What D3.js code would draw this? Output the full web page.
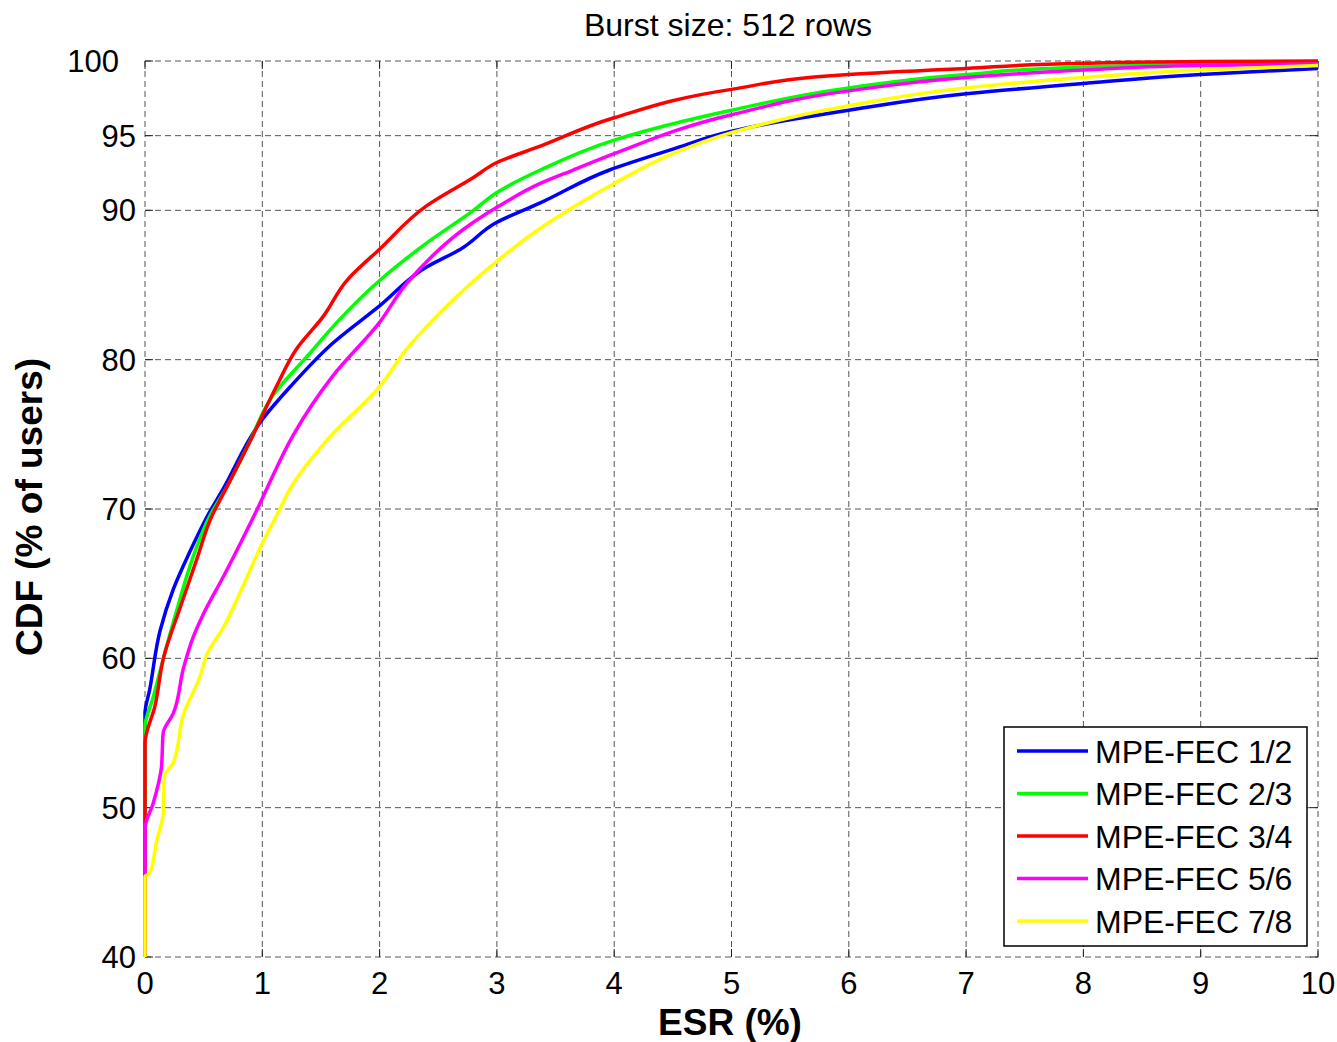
<!DOCTYPE html>
<html>
<head>
<meta charset="utf-8">
<script src="https://cdn.jsdelivr.net/npm/d3@7"></script>
<style>
  html, body { margin: 0; padding: 0; background: #fff; }
  svg { display: block; font-family: Arial, "Liberation Sans", sans-serif; }
</style>
</head>
<body>
<svg id="chart" width="1337" height="1042"></svg>
<script>
// Empirical CDF of erroneous-second ratio per MPE-FEC code rate
const seriesNames = ["MPE-FEC 1/2", "MPE-FEC 2/3", "MPE-FEC 3/4", "MPE-FEC 5/6", "MPE-FEC 7/8"];
const seriesColors = ["#0000ff", "#00ff00", "#ff0000", "#ff00ff", "#ffff00"];

const esr12 = [0, 0, 0.04, 0.13, 0.24, 0.38, 0.53, 0.67, 1.0, 1.24, 1.6, 2.0, 2.4, 2.69, 3.0, 3.37, 3.96, 4.5, 5.0, 6.0, 7.0, 8.0, 9.0, 10];
const cdf12 = [40, 56.3, 57.9, 61.9, 64.6, 67.1, 69.5, 71.4, 76.0, 78.2, 81.1, 83.6, 86.2, 87.4, 89.2, 90.5, 92.7, 94.1, 95.3, 96.7, 97.8, 98.5, 99.1, 99.5];

const esr23 = [0, 0, 0.07, 0.16, 0.27, 0.41, 0.55, 0.7, 0.88, 1.09, 1.38, 1.66, 2.0, 2.4, 2.8, 3.0, 3.37, 4.0, 5.0, 6.0, 7.0, 8.0, 9.0, 10];
const cdf23 = [40, 55.4, 57.4, 60.1, 63.2, 66.8, 69.5, 71.5, 74.3, 77.6, 80.2, 82.7, 85.3, 87.8, 90.0, 91.2, 92.7, 94.7, 96.7, 98.2, 99.1, 99.6, 99.8, 99.9];

const esr34 = [0, 0, 0.085, 0.16, 0.3, 0.44, 0.58, 0.64, 0.9, 1.12, 1.29, 1.52, 1.72, 2.0, 2.4, 2.8, 3.0, 3.37, 4.0, 5.0, 6.0, 7.0, 8.0, 9.0, 10];
const cdf34 = [40, 54.3, 56.8, 60.1, 63.4, 66.6, 69.7, 70.6, 74.6, 78.2, 80.7, 82.9, 85.3, 87.4, 90.3, 92.2, 93.2, 94.3, 96.2, 98.1, 99.1, 99.5, 99.85, 99.97, 100];

const esr56 = [0, 0, 0.07, 0.14, 0.155, 0.24, 0.33, 0.41, 0.5, 0.67, 0.87, 0.97, 1.07, 1.26, 1.6, 2.0, 2.23, 2.8, 3.0, 3.37, 3.65, 4.0, 5.0, 6.0, 7.0, 8.0, 9.0, 10];
const cdf56 = [40, 48.6, 50.3, 52.7, 55.0, 56.3, 59.4, 61.4, 63.0, 65.5, 68.6, 70.2, 71.9, 74.9, 78.9, 82.5, 85.1, 89.2, 90.2, 91.8, 92.7, 93.8, 96.4, 98.0, 98.9, 99.4, 99.7, 99.8];

const esr78 = [0, 0, 0.04, 0.1, 0.155, 0.165, 0.24, 0.33, 0.47, 0.53, 0.67, 0.81, 1.0, 1.15, 1.24, 1.55, 2.0, 2.23, 2.51, 2.94, 3.37, 4.0, 4.5, 5.0, 6.0, 7.0, 8.0, 9.0, 10];
const cdf78 = [40, 45.4, 45.6, 47.8, 49.6, 52.1, 53.0, 56.3, 58.8, 60.3, 62.1, 64.4, 67.7, 70.0, 71.4, 74.6, 78.2, 80.7, 83.1, 86.2, 88.8, 91.8, 93.8, 95.2, 97.0, 98.2, 98.9, 99.4, 99.7];

const xTicks = [0, 1, 2, 3, 4, 5, 6, 7, 8, 9, 10];
const yTicks = [40, 50, 60, 70, 80, 90, 95, 100];

const seriesX = [esr12, esr23, esr34, esr56, esr78];
const seriesY = [cdf12, cdf23, cdf34, cdf56, cdf78];

const svg = d3.select("#chart");
const plot = { left: 145, right: 1318, top: 61, bottom: 957 };

const x = d3.scaleLinear().domain([0, 10]).range([plot.left, plot.right]);
const y = d3.scaleLinear().domain([40, 100]).range([plot.bottom, plot.top]);

// dashed grid, also forming the frame of the axes
const grid = svg.append("g")
  .attr("stroke", "#555")
  .attr("stroke-width", 1)
  .attr("stroke-dasharray", "6,4")
  .attr("fill", "none");
grid.selectAll("line.v").data(xTicks).join("line")
  .attr("x1", d => x(d)).attr("x2", d => x(d))
  .attr("y1", plot.top).attr("y2", plot.bottom);
grid.selectAll("line.h").data(yTicks).join("line")
  .attr("y1", d => y(d)).attr("y2", d => y(d))
  .attr("x1", plot.left).attr("x2", plot.right);

// inward tick marks on all four sides
const tickLen = 8;
const ticks = svg.append("g").attr("stroke", "#222").attr("stroke-width", 1);
xTicks.forEach(t => {
  ticks.append("line").attr("x1", x(t)).attr("x2", x(t)).attr("y1", plot.bottom).attr("y2", plot.bottom - tickLen);
  ticks.append("line").attr("x1", x(t)).attr("x2", x(t)).attr("y1", plot.top).attr("y2", plot.top + tickLen);
});
yTicks.forEach(t => {
  ticks.append("line").attr("y1", y(t)).attr("y2", y(t)).attr("x1", plot.left).attr("x2", plot.left + tickLen);
  ticks.append("line").attr("y1", y(t)).attr("y2", y(t)).attr("x1", plot.right).attr("x2", plot.right - tickLen);
});

// tick labels
svg.append("g").selectAll("text").data(xTicks).join("text")
  .attr("x", d => x(d))
  .attr("y", 994)
  .attr("text-anchor", "middle")
  .attr("font-size", 31)
  .attr("fill", "#000")
  .text(d => d);

svg.append("g").selectAll("text").data(yTicks).join("text")
  .attr("x", d => d === 100 ? 119 : 136)
  .attr("y", d => y(d) + 11)
  .attr("text-anchor", "end")
  .attr("font-size", 31)
  .attr("fill", "#000")
  .text(d => d);

// curves: CDF rises monotonically, so interpolate ESR as a monotone function of CDF
const line = d3.line()
  .x(d => x(d[0]))
  .y(d => y(d[1]))
  .curve(d3.curveMonotoneY);

const clipId = "plot-clip";
svg.append("clipPath").attr("id", clipId).append("rect")
  .attr("x", plot.left - 2).attr("y", plot.top - 2)
  .attr("width", plot.right - plot.left + 4).attr("height", plot.bottom - plot.top + 4);

const curves = svg.append("g").attr("clip-path", `url(#${clipId})`);
seriesNames.forEach((name, i) => {
  const pts = seriesX[i].map((v, k) => [v, seriesY[i][k]]);
  curves.append("path")
    .datum(pts)
    .attr("d", line)
    .attr("fill", "none")
    .attr("stroke", seriesColors[i])
    .attr("stroke-width", 3.5)
    .attr("stroke-linejoin", "round");
});

// title and axis labels
svg.append("text")
  .attr("x", 728).attr("y", 36)
  .attr("text-anchor", "middle")
  .attr("font-size", 32)
  .text("Burst size: 512 rows");

svg.append("text")
  .attr("x", 730).attr("y", 1035)
  .attr("text-anchor", "middle")
  .attr("font-size", 37)
  .attr("font-weight", "bold")
  .text("ESR (%)");

svg.append("text")
  .attr("transform", "translate(42,507) rotate(-90)")
  .attr("text-anchor", "middle")
  .attr("font-size", 37)
  .attr("font-weight", "bold")
  .text("CDF (% of users)");

// legend
const legend = svg.append("g");
legend.append("rect")
  .attr("x", 1004).attr("y", 727)
  .attr("width", 303).attr("height", 219)
  .attr("fill", "#fff")
  .attr("stroke", "#000")
  .attr("stroke-width", 1.5);
const rowY = d3.scaleLinear().domain([0, 4]).range([751, 921]);
seriesNames.forEach((name, i) => {
  legend.append("line")
    .attr("x1", 1017).attr("x2", 1088)
    .attr("y1", rowY(i)).attr("y2", rowY(i))
    .attr("stroke", seriesColors[i])
    .attr("stroke-width", 3.5);
  legend.append("text")
    .attr("x", 1095).attr("y", rowY(i) + 11.5)
    .attr("font-size", 32)
    .text(name);
});
</script>
</body>
</html>
